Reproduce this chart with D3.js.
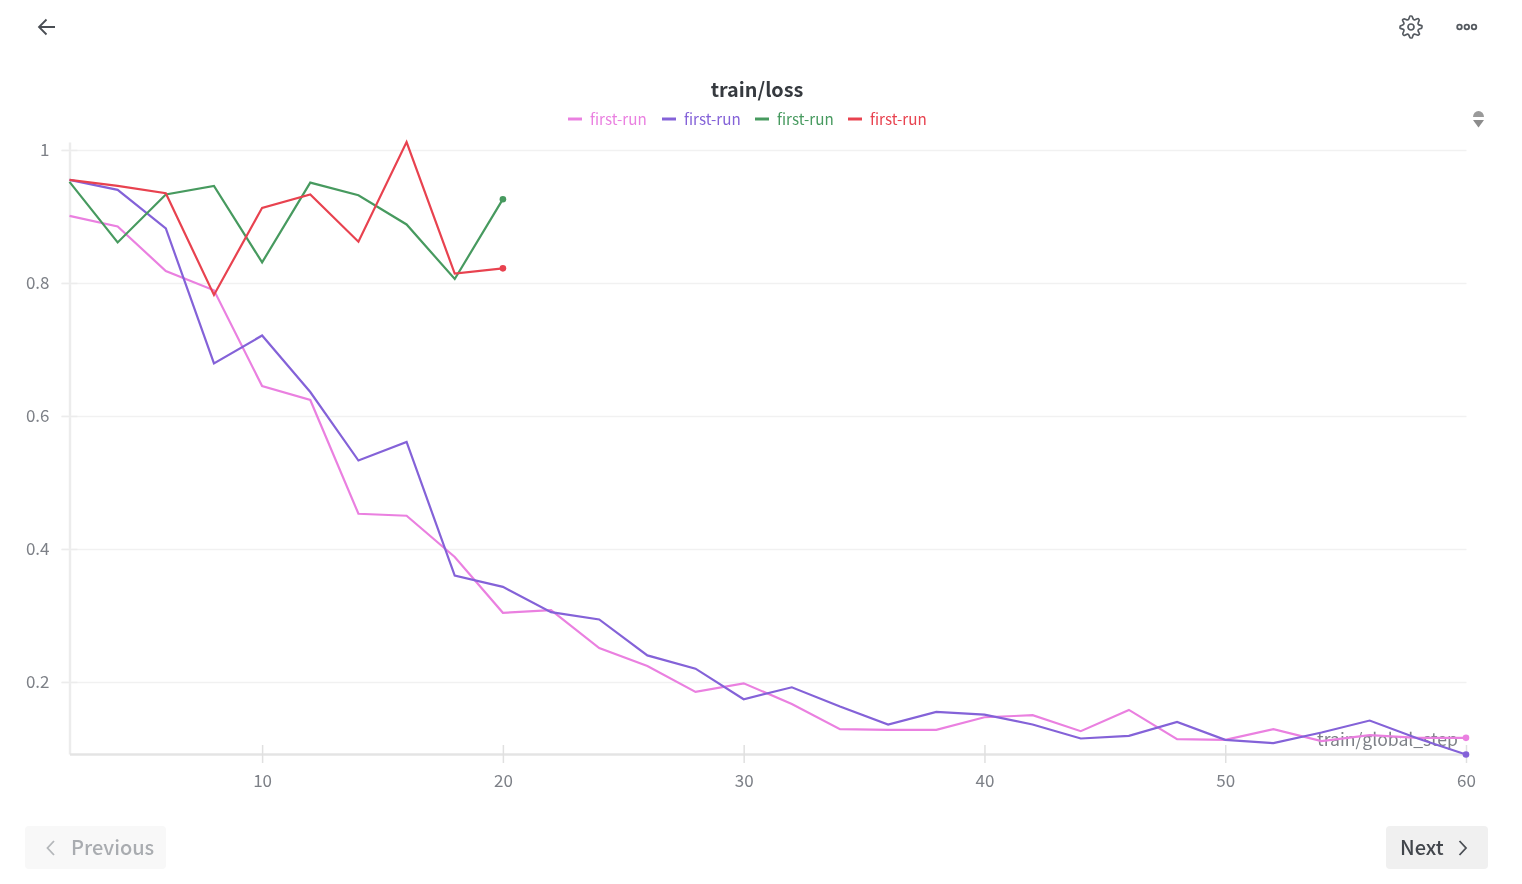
<!DOCTYPE html>
<html>
<head>
<meta charset="utf-8">
<script src="https://cdn.jsdelivr.net/npm/d3@7"></script>
<style>
  html, body { margin: 0; padding: 0; background: #fff; overflow: hidden; }
  svg { display: block; font-family: "Noto Sans CJK SC", "Noto Sans", sans-serif; filter: blur(0.45px); }
</style>
</head>
<body>
<svg id="chart" width="1522" height="884"></svg>
<script>
var stepsLong = [2,4,6,8,10,12,14,16,18,20,22,24,26,28,30,32,34,36,38,40,42,44,46,48,50,52,54,56,58,60];
var stepsShort = [2,4,6,8,10,12,14,16,18,20];

var pinkLoss = [.901,.885,.818,.789,.645,.624,.453,.450,.388,.304,.308,.251,.224,.185,.198,.167,.129,.128,.128,.147,.150,.126,.158,.114,.113,.129,.111,.120,.116,.116];
var purpleLoss = [.955,.940,.882,.679,.721,.636,.533,.561,.360,.343,.305,.294,.240,.220,.174,.192,.163,.136,.155,.151,.136,.115,.119,.140,.113,.108,.124,.142,.115,.091];
var greenLoss = [.952,.861,.933,.946,.831,.951,.932,.888,.806,.926];
var redLoss = [.955,.946,.935,.782,.913,.933,.862,1.012,.814,.822];

var xTicks = [10,20,30,40,50,60];
var yTicks = [0.2,0.4,0.6,0.8,1];
var runNames = ["first-run","first-run","first-run","first-run"];
var runColors = ["#ea80e0","#8462d8","#479a5f","#e8424f"];

var svg = d3.select("#chart");

var x = d3.scaleLinear().domain([2, 60]).range([69.5, 1466]);
var y = d3.scaleLinear().domain([0.0917, 1.012]).range([754, 142]);

// grid + axes
var yAxis = svg.append("g")
  .attr("transform", "translate(69.5,0)")
  .call(d3.axisLeft(y).tickValues(yTicks).tickFormat(d3.format("~g")).tickSize(0).tickSizeOuter(0).tickPadding(20))
  .attr("font-family", null).attr("font-size", null);
yAxis.select(".domain").attr("stroke", "#ececec").attr("stroke-width", 2.4);
yAxis.selectAll(".tick text").attr("fill", "#7d8087").style("font-size", "17px");
yAxis.selectAll(".tick").append("line")
  .attr("x1", -8).attr("x2", 1397)
  .attr("stroke", "#f1f1f1").attr("stroke-width", 1.5);
yAxis.selectAll(".tick").append("line")
  .attr("x1", -8).attr("x2", 8)
  .attr("stroke", "#ececec").attr("stroke-width", 1.5);

var xAxis = svg.append("g")
  .attr("transform", "translate(0,754)")
  .call(d3.axisBottom(x).tickValues(xTicks).tickFormat(d3.format("d")).tickSize(9).tickSizeOuter(0).tickPadding(12))
  .attr("font-family", null).attr("font-size", null);
xAxis.select(".domain").attr("stroke", "#e4e4e4").attr("stroke-width", 2.4);
xAxis.selectAll(".tick line").attr("stroke", "#e0e0e0").attr("stroke-width", 1.5).attr("y1", -9);
xAxis.selectAll(".tick text").attr("fill", "#7d8087").style("font-size", "17px");

svg.append("text")
  .attr("x", 1458).attr("y", 746)
  .attr("text-anchor", "end")
  .attr("fill", "#7d8087")
  .style("font-size", "17.6px")
  .text("train/global_step");

// lines
var line = d3.line().x(d => x(d[0])).y(d => y(d[1]));
var runs = [
  { color: runColors[0], points: d3.zip(stepsLong, pinkLoss) },
  { color: runColors[1], points: d3.zip(stepsLong, purpleLoss) },
  { color: runColors[2], points: d3.zip(stepsShort, greenLoss) },
  { color: runColors[3], points: d3.zip(stepsShort, redLoss) }
];

var runGroups = svg.selectAll("g.run").data(runs).join("g").attr("class", "run");
runGroups.append("path")
  .attr("fill", "none")
  .attr("stroke", d => d.color)
  .attr("stroke-width", 2.2)
  .attr("stroke-linejoin", "miter")
  .attr("d", d => line(d.points));
runGroups.append("circle")
  .attr("r", 3.3)
  .attr("fill", d => d.color)
  .attr("cx", d => x(d.points[d.points.length - 1][0]))
  .attr("cy", d => y(d.points[d.points.length - 1][1]));

// title + legend
svg.append("text")
  .attr("x", 757).attr("y", 97)
  .attr("text-anchor", "middle")
  .attr("fill", "#363a3f")
  .style("font-size", "19.8px")
  .style("font-weight", 700)
  .text("train/loss");

var legendX = [568, 662, 755, 848];
var legend = svg.selectAll("g.legend").data(runNames).join("g")
  .attr("class", "legend")
  .attr("transform", (d, i) => `translate(${legendX[i]},119)`);
legend.append("line")
  .attr("x1", 0).attr("x2", 14)
  .attr("stroke", (d, i) => runColors[i])
  .attr("stroke-width", 3);
legend.append("text")
  .attr("x", 22).attr("y", 5.5)
  .attr("fill", (d, i) => runColors[i])
  .style("font-size", "15.2px")
  .text(d => d);

// back arrow
svg.append("path")
  .attr("d", "M55 27H39M46.5 19.5L39 27L46.5 34.5")
  .attr("fill", "none").attr("stroke", "#4a4e54").attr("stroke-width", 1.8);

// gear icon
var gearRadii = [11, 10.6, 8, 8];
var gear = svg.append("g").attr("transform", "translate(1411,27)")
  .attr("fill", "none").attr("stroke", "#555a60").attr("stroke-width", 1.7);
gear.append("path").attr("d", d3.lineRadial().curve(d3.curveCardinalClosed.tension(0.5))(
  d3.range(32).map(i => [i * Math.PI / 16 - Math.PI / 32, gearRadii[i % 4]])));
gear.append("circle").attr("r", 3);

// more menu
svg.selectAll("circle.more").data([1459.5, 1466.8, 1474]).join("circle")
  .attr("class", "more")
  .attr("cx", d => d).attr("cy", 27).attr("r", 2.3)
  .attr("fill", "none").attr("stroke", "#555a60").attr("stroke-width", 1.8);

// legend scroller
svg.append("path").attr("d", "M1473 117a5.5 6 0 0 1 11 0Z").attr("fill", "#9a9a9a");
svg.append("path").attr("d", "M1473 120H1484L1478.5 127.5Z").attr("fill", "#8c8c8c");

// previous button
svg.append("rect")
  .attr("x", 25).attr("y", 826).attr("width", 141).attr("height", 43).attr("rx", 4)
  .attr("fill", "#f8f8f8");
svg.append("path")
  .attr("d", "M54 841L47.5 848L54 855")
  .attr("fill", "none").attr("stroke", "#b4b7ba").attr("stroke-width", 1.8);
svg.append("text")
  .attr("x", 71).attr("y", 854.5)
  .attr("fill", "#a9acb0")
  .style("font-size", "20px")
  .style("font-weight", 500)
  .text("Previous");

// next button
svg.append("rect")
  .attr("x", 1386).attr("y", 826).attr("width", 102).attr("height", 43).attr("rx", 4)
  .attr("fill", "#f0f0f0");
svg.append("path")
  .attr("d", "M1459.5 841L1466 848L1459.5 855")
  .attr("fill", "none").attr("stroke", "#4a4e54").attr("stroke-width", 1.8);
svg.append("text")
  .attr("x", 1400).attr("y", 854.5)
  .attr("fill", "#42464c")
  .style("font-size", "20px")
  .style("font-weight", 500)
  .text("Next");
</script>
</body>
</html>
